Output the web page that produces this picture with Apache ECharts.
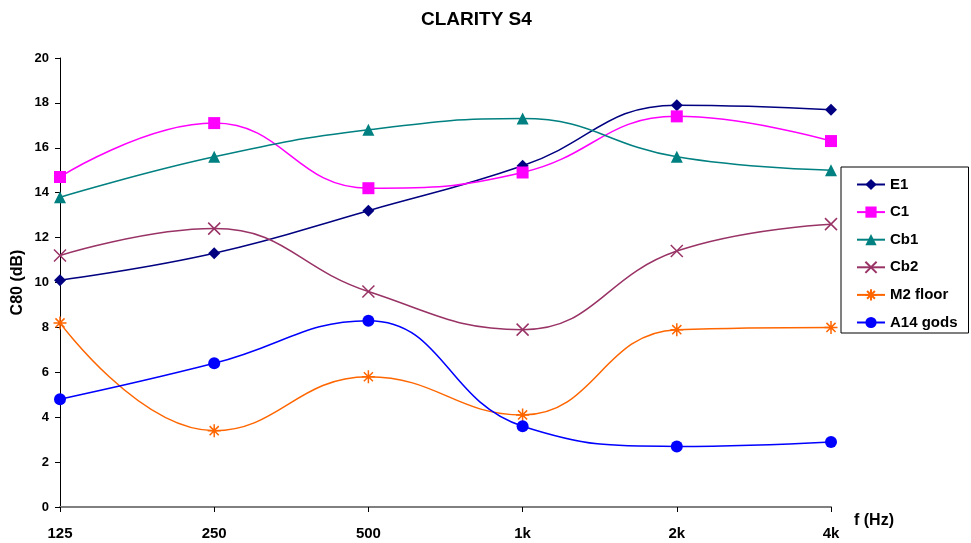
<!DOCTYPE html>
<html>
<head>
<meta charset="utf-8">
<script src="https://cdn.jsdelivr.net/npm/echarts@6/dist/echarts.min.js"></script>
<style>
  html, body { margin: 0; padding: 0; background: #fff; }
  #chart { width: 971px; height: 543px; }
</style>
</head>
<body>
<div id="chart"></div>
<script>
// frequency bands
const freqs = ['125', '250', '500', '1k', '2k', '4k']
const yTicks = [0, 2, 4, 6, 8, 10, 12, 14, 16, 18, 20]

// C80 values (dB) per position
const e1 = [10.1, 11.3, 13.2, 15.2, 17.9, 17.7]
const c1 = [14.7, 17.1, 14.2, 14.9, 17.4, 16.3]
const cb1 = [13.8, 15.6, 16.8, 17.3, 15.6, 15.0]
const cb2 = [11.2, 12.4, 9.6, 7.9, 11.4, 12.6]
const m2Floor = [8.2, 3.4, 5.8, 4.1, 7.9, 8.0]
const a14Gods = [4.8, 6.4, 8.3, 3.6, 2.7, 2.9]

const crossPath = 'path://M0,0L10,10M10,0L0,10'
const starPath = 'path://M5,0L5,10M0,5L10,5M1.5,1.5L8.5,8.5M8.5,1.5L1.5,8.5'

function makeSeries (name, data, color, symbol, size, stroke) {
  return {
    name: name,
    type: 'line',
    data: data,
    smooth: 0.45,
    symbol: symbol,
    symbolSize: size,
    showAllSymbol: true,
    lineStyle: { color: color, width: 1.5 },
    itemStyle: stroke
      ? { color: color, borderColor: color, borderWidth: 1.5 }
      : { color: color, borderWidth: 0 },
    z: 3
  }
}

let myChart = echarts.init(document.getElementById('chart'))
myChart.setOption({
  animation: false,
  textStyle: { fontFamily: 'Liberation Sans, Arial, sans-serif' },
  title: {
    text: 'CLARITY S4',
    left: 416,
    top: 5,
    textStyle: { color: '#000', fontSize: 19, fontWeight: 'bold' }
  },
  grid: { left: 60, right: 140, top: 58, bottom: 36 },
  legend: {
    orient: 'vertical',
    left: 841,
    top: 167,
    padding: [10, 11, 3, 15],
    itemGap: 12.6,
    itemWidth: 28,
    itemHeight: 14,
    borderColor: '#000',
    borderWidth: 1,
    textStyle: { color: '#000', fontSize: 15, fontWeight: 'bold' },
    data: ['E1', 'C1', 'Cb1', 'Cb2', 'M2 floor', 'A14 gods']
  },
  xAxis: {
    type: 'category',
    data: freqs,
    boundaryGap: false,
    name: 'f (Hz)',
    nameLocation: 'end',
    nameGap: 23,
    nameTextStyle: { color: '#000', fontSize: 16, fontWeight: 'bold', verticalAlign: 'top', padding: [6, 0, 0, 0] },
    axisLine: { lineStyle: { color: '#808080', width: 2 } },
    axisTick: { show: true, length: 5, lineStyle: { color: '#000' } },
    axisLabel: { color: '#000', fontSize: 15, fontWeight: 'bold', margin: 19 },
    splitLine: { show: false }
  },
  yAxis: {
    type: 'value',
    min: yTicks[0],
    max: yTicks[yTicks.length - 1],
    interval: 2,
    name: 'C80 (dB)',
    nameLocation: 'middle',
    nameGap: 34,
    nameMoveOverlap: false,
    nameTextStyle: { color: '#000', fontSize: 16, fontWeight: 'bold' },
    axisLine: { show: true, lineStyle: { color: '#000', width: 1 } },
    axisTick: { show: true, length: 5, lineStyle: { color: '#000' } },
    axisLabel: { color: '#000', fontSize: 13, fontWeight: 'bold', margin: 11 },
    splitLine: { show: false }
  },
  series: [
    makeSeries('E1', e1, '#000080', 'diamond', 12, false),
    makeSeries('C1', c1, '#FF00FF', 'rect', 12, false),
    makeSeries('Cb1', cb1, '#008080', 'triangle', 12, false),
    makeSeries('Cb2', cb2, '#993366', crossPath, 12, true),
    makeSeries('M2 floor', m2Floor, '#FF6600', starPath, 13, true),
    makeSeries('A14 gods', a14Gods, '#0000FF', 'circle', 12, false)
  ]
})
</script>
</body>
</html>
